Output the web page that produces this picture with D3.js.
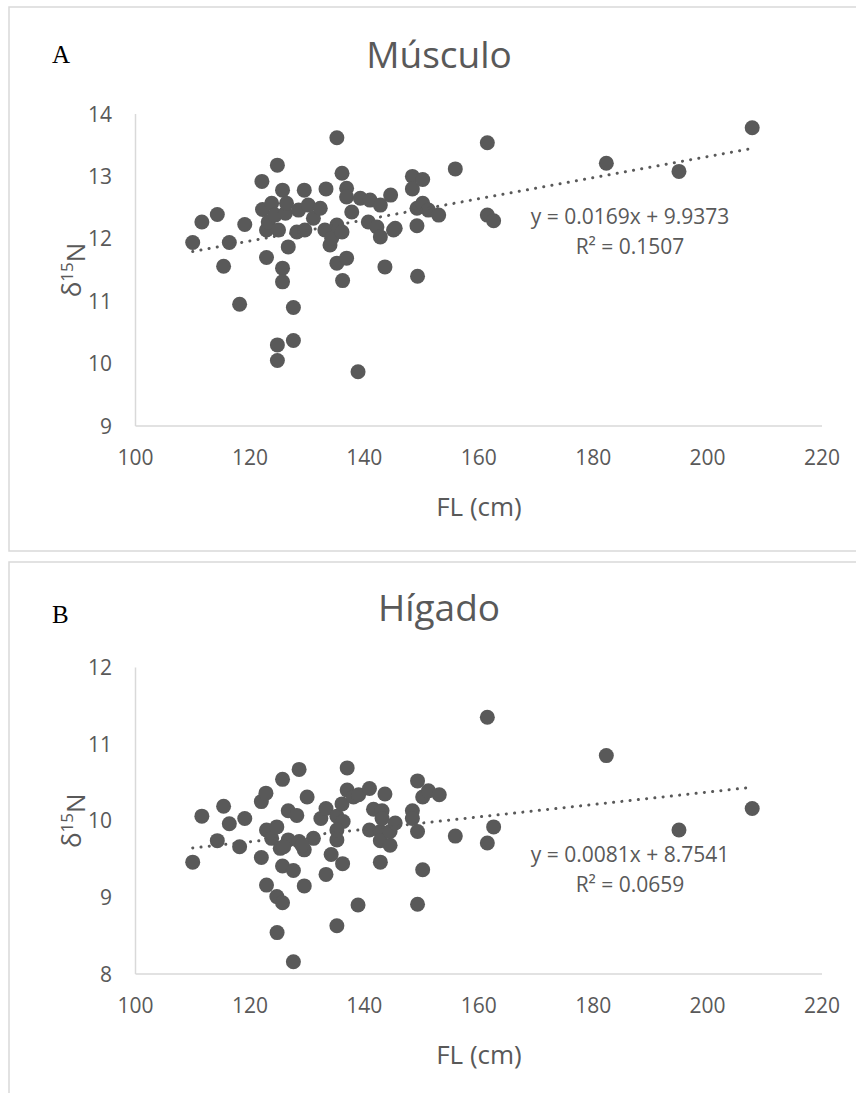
<!DOCTYPE html>
<html>
<head>
<meta charset="utf-8">
<script src="https://cdn.jsdelivr.net/npm/d3@7"></script>
<style>
  body { margin: 0; background: #fff; }
  text { font-family: "Open Sans", sans-serif; fill: #595959; }
</style>
</head>
<body>
<script>
// FL (cm) vs d15N, muscle
var musculoFL = [110.0,111.6,114.3,115.4,116.4,118.2,119.1,122.1,122.2,122.9,122.9,123.2,123.8,124.4,124.8,124.8,124.8,125.0,125.7,125.7,125.7,126.2,126.4,126.7,127.6,127.6,128.2,128.5,129.5,129.6,130.2,131.1,132.3,133.1,133.3,134.0,134.3,135.2,135.2,135.2,136.1,136.1,136.2,136.9,136.9,136.9,137.8,138.9,139.3,140.7,141.0,142.2,142.8,142.8,143.6,144.6,145.1,145.4,148.4,148.4,149.2,149.2,149.3,150.2,150.2,151.2,153.0,155.9,161.5,161.5,162.6,182.3,195.0,207.8];
var musculoN = [11.94,12.27,12.39,11.56,11.94,10.95,12.23,12.92,12.47,12.14,11.70,12.27,12.57,12.38,13.18,10.30,10.05,12.14,12.78,11.53,11.31,12.41,12.57,11.87,10.90,10.37,12.11,12.46,12.78,12.14,12.54,12.33,12.49,12.14,12.80,11.90,12.01,13.62,12.22,11.61,13.05,12.11,11.33,12.81,12.67,11.69,12.43,9.87,12.65,12.27,12.62,12.19,12.54,12.03,11.55,12.70,12.14,12.17,13.00,12.80,12.49,12.21,11.40,12.95,12.57,12.46,12.38,13.12,13.54,12.38,12.29,13.21,13.08,13.78];

// liver
var higadoFL = [110.0,111.6,114.3,115.4,116.4,118.2,119.1,122.0,122.8,122.0,122.9,122.9,123.8,124.7,125.7,124.75,124.7,125.3,125.7,125.7,126.7,126.7,127.6,127.6,128.2,128.6,128.6,129.5,129.5,130.0,131.1,132.4,133.3,133.3,134.2,135.2,135.2,135.2,136.1,136.2,136.3,137.0,137.0,138.1,138.9,139.0,140.9,140.9,141.6,142.8,142.8,142.8,143.1,143.1,143.6,144.5,144.5,145.4,148.4,148.4,149.3,149.3,149.3,150.2,150.2,151.2,153.1,155.9,161.5,161.5,162.6,182.3,195.0,207.8,135.2,129.1,125.9];
var higadoN = [9.46,10.06,9.74,10.19,9.96,9.66,10.03,10.25,10.36,9.52,9.88,9.16,9.77,9.01,8.93,8.54,9.92,9.64,10.54,9.41,10.13,9.75,8.16,9.35,10.07,10.67,9.73,9.62,9.15,10.31,9.77,10.03,10.16,9.30,9.56,10.06,9.75,8.63,10.22,9.44,9.99,10.69,10.40,10.31,8.90,10.34,10.42,9.88,10.15,9.86,9.74,9.46,10.13,10.03,10.35,9.68,9.86,9.97,10.13,10.03,10.52,9.86,8.91,10.31,9.36,10.39,10.34,9.80,11.35,9.71,9.92,10.85,9.88,10.16,9.88,9.68,9.66];

var xTicks = [100, 120, 140, 160, 180, 200, 220];
var musculoTicks = [9, 10, 11, 12, 13, 14];
var higadoTicks = [8, 9, 10, 11, 12];

// trendline coefficients (from the chart labels)
var musculoFit = {m: 0.0169, b: 9.9373, eq: "y = 0.0169x + 9.9373", r2: "R² = 0.1507"};
var higadoFit = {m: 0.0081, b: 8.7541, eq: "y = 0.0081x + 8.7541", r2: "R² = 0.0659"};

var svg = d3.select("body").append("svg")
  .attr("width", 856).attr("height", 1093);

var grey = "#595959";

function drawChart(o) {
  var g = svg.append("g");

  // chart frame
  g.append("rect")
    .attr("x", 9).attr("y", o.top)
    .attr("width", 900).attr("height", o.frameH)
    .attr("fill", "none").attr("stroke", "#d9d9d9").attr("stroke-width", 1.5);

  var x = d3.scaleLinear().domain([100, 220]).range([135.5, 822]);
  var y = d3.scaleLinear().domain(o.yDomain).range(o.yRange);

  g.append("text").text(o.letter)
    .attr("x", 52).attr("y", o.top + o.letterY)
    .style("font-family", "'Liberation Serif', serif")
    .style("font-size", "25px").style("fill", "#000");

  g.append("text").text(o.title)
    .attr("x", 439).attr("y", o.top + o.titleY)
    .attr("text-anchor", "middle")
    .style("font-size", "37px");

  // axes lines
  g.append("line")
    .attr("x1", x(100)).attr("x2", x(100))
    .attr("y1", y(o.yDomain[1])).attr("y2", y(o.yDomain[0]))
    .attr("stroke", "#d9d9d9").attr("stroke-width", 1.5);
  g.append("line")
    .attr("x1", x(100)).attr("x2", x(220))
    .attr("y1", y(o.yDomain[0])).attr("y2", y(o.yDomain[0]))
    .attr("stroke", "#d9d9d9").attr("stroke-width", 1.5);

  g.selectAll(".yt").data(o.yTicks).enter().append("text")
    .attr("x", 112).attr("y", function(d) { return y(d); })
    .attr("dy", "0.36em")
    .attr("text-anchor", "end")
    .style("font-size", "21px")
    .text(function(d) { return d; });

  g.selectAll(".xt").data(xTicks).enter().append("text")
    .attr("x", function(d) { return x(d); })
    .attr("y", y(o.yDomain[0]) + 39)
    .attr("text-anchor", "middle")
    .style("font-size", "21px")
    .text(function(d) { return d; });

  g.append("text").text("FL (cm)")
    .attr("x", 479).attr("y", y(o.yDomain[0]) + 90)
    .attr("text-anchor", "middle")
    .style("font-size", "26px");

  var cy = (o.yRange[0] + o.yRange[1]) / 2;
  var yl = g.append("text")
    .attr("transform", "translate(81," + cy + ") rotate(-90)")
    .attr("text-anchor", "middle")
    .style("font-size", "26px");
  yl.append("tspan").text("δ");
  yl.append("tspan").text("15").attr("dy", "-0.45em").style("font-size", "17px");
  yl.append("tspan").text("N").attr("dy", "0.45em");

  // points
  var pts = o.fl.map(function(d, i) { return [d, o.n[i]]; });
  g.selectAll(".pt").data(pts).enter().append("circle")
    .attr("cx", function(d) { return x(d[0]); })
    .attr("cy", function(d) { return y(d[1]); })
    .attr("r", 7.5)
    .attr("fill", grey);

  // linear trendline
  var ext = d3.extent(o.fl);
  g.append("line")
    .attr("x1", x(ext[0])).attr("y1", y(o.fit.m * ext[0] + o.fit.b))
    .attr("x2", x(ext[1])).attr("y2", y(o.fit.m * ext[1] + o.fit.b))
    .attr("stroke", grey).attr("stroke-width", 3)
    .attr("stroke-linecap", "round")
    .attr("stroke-dasharray", "0.1 8.2");

  g.append("text").text(o.fit.eq)
    .attr("x", 630).attr("y", o.eqY)
    .attr("text-anchor", "middle").style("font-size", "21px");
  g.append("text").text(o.fit.r2)
    .attr("x", 630).attr("y", o.eqY + 30)
    .attr("text-anchor", "middle").style("font-size", "21px");
}

drawChart({
  top: 7, frameH: 544, letter: "A", letterY: 56, title: "Músculo", titleY: 61,
  yDomain: [9, 14], yRange: [426, 114], yTicks: musculoTicks,
  fl: musculoFL, n: musculoN, fit: musculoFit, eqY: 224
});

drawChart({
  top: 562, frameH: 600, letter: "B", letterY: 61, title: "Hígado", titleY: 59,
  yDomain: [8, 12], yRange: [974, 667.5], yTicks: higadoTicks,
  fl: higadoFL, n: higadoN, fit: higadoFit, eqY: 862
});
</script>
</body>
</html>
